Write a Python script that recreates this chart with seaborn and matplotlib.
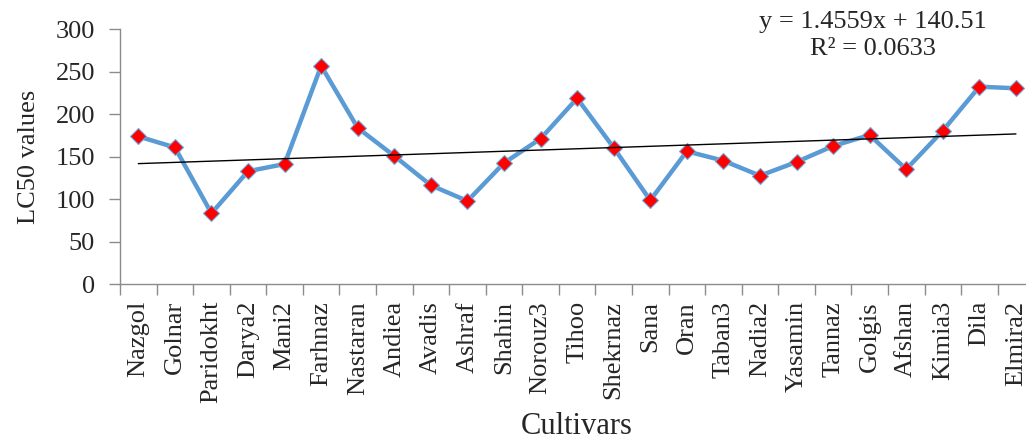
import numpy as np
import pandas as pd
import seaborn as sns
import matplotlib.pyplot as plt
from matplotlib.ticker import FixedLocator

# cultivars and LC50 values
cultivars = ["Nazgol", "Golnar", "Paridokht", "Darya2", "Mani2", "Farhnaz", "Nastaran",
             "Andiea", "Avadis", "Ashraf", "Shahin", "Norouz3", "Tihoo", "Shekrnaz",
             "Sana", "Oran", "Taban3", "Nadia2", "Yasamin", "Tannaz", "Golgis",
             "Afshan", "Kimia3", "Dila", "Elmira2"]
lc50 = [174, 161, 83.5, 133, 141.5, 257, 184, 151, 116.5, 98, 142.7, 171.3, 218.8,
        160.7, 98.8, 156.5, 145.4, 127.8, 143.9, 162.7, 175.6, 135.3, 180.7, 232.5, 230.6]

# linear trend as printed on the chart (x = 1..n)
slope = 1.4559
intercept = 140.51
r2 = 0.0633

sns.set_style("white")
plt.rcParams["font.family"] = ["Liberation Serif", "DejaVu Serif"]

df = pd.DataFrame({"cultivar": cultivars, "lc50": lc50})
df["pos"] = np.arange(len(df))
df["trend"] = slope * (df["pos"] + 1) + intercept

fig = plt.figure(figsize=(10.26, 4.44), dpi=100)
ax = fig.add_axes([0.117, 0.3597, 0.891, 0.5743])

sns.lineplot(data=df, x="pos", y="lc50", ax=ax, color="#5B9BD5", linewidth=3.2,
             marker="D", markersize=8, markerfacecolor="#FF0000",
             markeredgecolor="#6FA8DC", markeredgewidth=0.8, zorder=3)
sns.lineplot(data=df, x="pos", y="trend", ax=ax, color="black", linewidth=1.0, zorder=4)

ax.set_xlim(-0.5, len(df) - 0.5)
ax.set_ylim(0, 300)
ax.set_yticks(np.arange(0, 301, 50))
ax.set_xticks(df["pos"])
ax.set_xticklabels(cultivars, rotation=90, fontsize=19)
ax.xaxis.set_minor_locator(FixedLocator(np.arange(-0.5, len(df), 1)))
ax.tick_params(axis="x", which="major", bottom=True, length=0, pad=12)
ax.tick_params(axis="x", which="minor", bottom=True, length=8, color="#8C8C8C",
               width=1, direction="out")
ax.tick_params(axis="y", left=True, length=8, color="#8C8C8C", width=1,
               direction="out", labelsize=19, pad=10)

for s in ["top", "right"]:
    ax.spines[s].set_visible(False)
for s in ["left", "bottom"]:
    ax.spines[s].set_color("#8C8C8C")
    ax.spines[s].set_linewidth(1)

ax.set_xlabel("Cultivars", fontsize=22, labelpad=6)
ax.set_ylabel("LC50 values", fontsize=19, labelpad=11)

ax.text(873, 433, "y = 1.4559x + 140.51\nR² = 0.0633", transform=None,
        ha="center", va="top", fontsize=19, linespacing=1.3)

fig.savefig("out.png", dpi=100)
